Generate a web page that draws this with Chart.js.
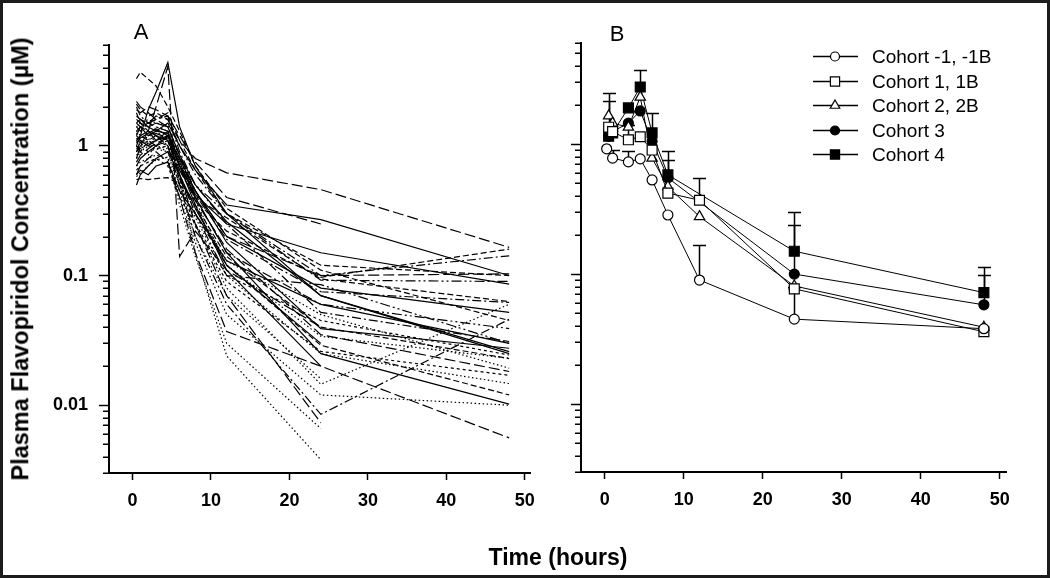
<!DOCTYPE html>
<html>
<head>
<meta charset="utf-8">
<script src="https://cdn.jsdelivr.net/npm/chart.js@4.4.1/dist/chart.umd.min.js"></script>
<style>
html,body{margin:0;padding:0;background:#fff;}
#wrap{position:relative;width:1050px;height:578px;overflow:hidden;background:#fff;}
#frame{position:absolute;left:0;top:0;width:1050px;height:578px;box-sizing:border-box;border:3px solid #1c1c1c;pointer-events:none;}
canvas{position:absolute;top:0;}
#cA{left:0;}
#cB{left:545px;}
.lbl{position:absolute;font-family:"Liberation Sans",Arial,sans-serif;color:#000;white-space:nowrap;line-height:1;}
#ytitle{font-weight:bold;font-size:23.5px;left:21px;top:259px;transform:translate(-50%,-50%) rotate(-90deg);}
#xtitle{font-weight:bold;font-size:23px;left:558px;top:557px;transform:translate(-50%,-50%);}
#lA{font-size:22px;left:141px;top:32px;transform:translate(-50%,-50%);}
#lB{font-size:22px;left:617px;top:34px;transform:translate(-50%,-50%);}
</style>
</head>
<body>
<div id="wrap">
  <canvas id="cA" width="545" height="578"></canvas>
  <canvas id="cB" width="505" height="578"></canvas>
  <div class="lbl" id="ytitle">Plasma Flavopiridol Concentration (µM)</div>
  <div class="lbl" id="xtitle">Time (hours)</div>
  <div class="lbl" id="lA">A</div>
  <div class="lbl" id="lB">B</div>
  <div id="frame"></div>
</div>
<script>
// ---------- DATA ----------
const xTicks = [0, 10, 20, 30, 40, 50];
const yMajorTicks = [0.01, 0.1, 1];
const yMajorLabels = ['0.01', '0.1', '1'];

// Panel A: individual patients, sampled at these times (h)
const timesA = [0.5, 1, 2, 3, 4.5, 6, 8, 12, 24, 48];
const pt01 = [3.3, 3.7, null, 2.9, 2.0, 1.3, 0.7, 0.33, 0.11, 0.045];
const pt02 = [null, 1.2, 1.9, 2.6, 4.4, 1.4, 0.7, 0.3, 0.07, 0.025];
const pt03 = [0.8, 1.0, 1.3, 2.0, 4.1, 0.14, 0.22, 0.11, 0.04, null];
const pt04 = [1.2, 1.4, 1.5, 1.6, 1.8, 1.1, 0.8, 0.62, 0.46, 0.165];
const pt05 = [0.55, 0.56, 0.55, 0.56, 0.57, 0.5, 0.38, 0.22, 0.097, 0.16];
const pt06 = [1.0, 0.9, 1.1, 1.0, 1.2, 0.8, 0.5, 0.3, 0.092, 0.09];
const pt07 = [1.5, 1.6, 1.4, 1.3, 1.5, 1.0, 0.65, 0.35, 0.27, 0.1];
const pt08 = [2.2, 2.0, 1.8, 1.6, 1.4, 0.85, 0.45, 0.2, 0.1, 0.103];
const pt09 = [0.7, 0.8, 0.9, 1.0, 1.2, 0.7, 0.42, 0.25, 0.15, 0.086];
const pt10 = [1.1, 1.0, 1.2, 1.3, 1.1, 0.6, 0.15, 0.024, 0.0038, null];
const pt11 = [0.9, 1.1, 1.0, 1.2, 1.0, 0.5, 0.2, 0.06, 0.0085, 0.046];
const pt12 = [1.3, 1.2, 1.1, 1.4, 1.3, 0.55, 0.25, 0.08, 0.0145, 0.06];
const pt13 = [0.6, 0.7, 0.8, 0.9, 0.75, 0.4, 0.15, 0.037, 0.02, 0.0056];
const pt14 = [1.0, 1.2, 1.3, 1.1, 1.3, 0.75, 0.4, 0.15, 0.025, 0.0102];
const pt15 = [1.8, 1.5, 1.3, 1.2, 1.0, 0.6, 0.3, 0.12, 0.029, 0.012];
const pt16 = [0.8, 0.9, 0.85, 1.0, 0.9, 0.45, 0.2, 0.07, 0.016, null];
const pt17 = [1.4, 1.3, 1.5, 1.6, 1.7, 0.9, 0.5, 0.25, 0.052, 0.031];
const pt18 = [1.2, 1.1, 1.0, 1.1, 1.2, 0.8, 0.45, 0.18, 0.039, 0.0275];
const pt19 = [0.9, 1.0, 1.1, 1.0, 1.1, 0.65, 0.4, 0.15, 0.06, 0.039];
const pt20 = [0.65, 0.7, 0.75, 0.8, 0.7, 0.4, 0.25, 0.1, 0.045, 0.0244];
const pt21 = [1.6, 1.5, 1.4, 1.5, 1.4, 0.85, 0.5, 0.26, 0.07, 0.0259];
const pt22 = [1.0, 0.95, 1.05, 1.1, 1.0, 0.55, 0.35, 0.14, 0.04, 0.0229];
const pt23 = [1.25, 1.1, 1.0, 1.0, 0.95, 0.55, 0.33, 0.13, 0.05, 0.0193];
const pt24 = [0.75, 0.85, 0.95, 1.05, 1.15, 0.7, 0.38, 0.16, 0.035, 0.0182];
const pt25 = [1.3, 1.4, 1.2, 1.3, 1.25, 0.7, 0.45, 0.2, 0.08, 0.052];
const pt26 = [2.0, 1.7, 1.5, 1.4, 1.3, 0.8, 0.42, 0.19, 0.075, 0.062];
const pt27 = [0.85, 0.9, 1.0, 0.95, 0.9, 0.5, 0.28, 0.1, 0.025, 0.0147];
const pt28 = [1.1, 1.2, 1.1, 1.2, 1.1, 0.65, 0.4, null, 0.094, 0.063];
const pt29 = [0.5, 0.6, 0.7, 0.8, 0.9, 0.6, 0.33, 0.12, 0.03, null];
const pt30 = [0.7, 0.75, 0.8, 0.85, 0.8, 0.35, 0.14, 0.03, 0.0066, null];
const pt31 = [1.5, 1.4, 1.3, 1.2, 1.1, 0.6, 0.25, 0.07, 0.0073, null];
const pt32 = [1.7, 1.6, 1.5, 1.7, 1.6, 1.0, 0.6, 0.3, 0.1, 0.142];
const pt33 = [1.05, 1.15, 1.25, 1.35, 1.2, 0.7, 0.35, 0.11, 0.02, null];
const pt34 = [0.95, 1.0, 0.9, 0.95, 1.0, 0.5, 0.24, 0.09, 0.026, 0.017];
const pt35 = [1.4, 1.5, 1.6, 1.5, 1.45, 0.8, 0.38, 0.12, 0.034, 0.023];
const pt36 = [0.6, 0.65, 0.6, 0.7, 0.75, 0.45, 0.3, 0.13, 0.06, 0.03];
const pt37 = [2.1, 1.9, 1.7, 1.8, 1.6, 1.1, 0.65, 0.3, 0.12, 0.1];
const pt38 = [1.15, 1.05, 1.2, 1.25, 1.15, 0.6, 0.3, 0.1, 0.085, 0.03];
const pt39 = [0.58, 0.62, 0.7, 0.78, 0.82, 0.4, 0.18, 0.05, 0.012, 0.01];
const pt40 = [1.9, 1.8, 2.0, 1.9, 1.7, 1.2, 0.75, 0.4, 0.25, null];
const patientsA = [pt01,pt02,pt03,pt04,pt05,pt06,pt07,pt08,pt09,pt10,pt11,pt12,pt13,pt14,pt15,pt16,pt17,pt18,pt19,pt20,
                   pt21,pt22,pt23,pt24,pt25,pt26,pt27,pt28,pt29,pt30,pt31,pt32,pt33,pt34,pt35,pt36,pt37,pt38,pt39,pt40];

// Panel B: cohort means and upper error bars
const cohortLabels = ['Cohort -1, -1B', 'Cohort 1, 1B', 'Cohort 2, 2B', 'Cohort 3', 'Cohort 4'];
const timesM1 = [0.25, 1, 3, 4.5, 6, 8, 12, 24, 48];
const meanM1  = [0.92, 0.78, 0.73, 0.77, 0.53, 0.285, 0.090, 0.045, 0.038];
const errM1   = [null, 0.9, 0.88, null, null, null, 0.168, 0.08, null];
const timesC1 = [0.5, 1, 3, 4.5, 6, 8, 12, 24, 48];
const meanC1  = [1.35, 1.25, 1.08, 1.14, 0.9, 0.42, 0.37, 0.077, 0.036];
const errC1   = [null, null, 1.4, null, null, 0.76, 0.55, null, null];
const timesC2 = [0.5, 1, 3, 4.5, 6, 8, 12, 24, 48];
const meanC2  = [1.65, 1.45, 1.35, 2.3, 0.78, 0.47, 0.277, 0.081, 0.039];
const errC2   = [2.47, null, null, null, null, null, null, null, null];
const timesC3 = [0.5, 1, 3, 4.5, 6, 8, 24, 48];
const meanC3  = [1.15, 1.25, 1.45, 1.8, 1.05, 0.55, 0.10, 0.058];
const errC3   = [2.13, null, null, null, null, null, 0.24, 0.098];
const timesC4 = [0.5, 1, 3, 4.5, 6, 8, 24, 48];
const meanC4  = [1.15, 1.22, 1.9, 2.75, 1.22, 0.58, 0.15, 0.072];
const errC4   = [null, null, null, 3.73, 1.73, 0.88, 0.30, 0.113];

// ---------- STYLES ----------
const dashStyles = {
  solid: [], dash: [6, 3], longdash: [11, 4], dot: [1.5, 2.5],
  dashdot: [9, 3, 2, 3], dashdotdot: [10, 3, 2, 3, 2, 3], shortdash: [3, 3]
};
const patientDash = ['dash','solid','longdash','longdash','dash','dashdotdot','solid','longdash','solid','dot',
  'dashdot','dot','longdash','solid','dash','dot','dashdot','solid','dashdotdot','shortdash',
  'solid','dash','dot','longdash','solid','dashdot','dot','dash','solid','dot',
  'longdash','dashdot','solid','shortdash','dot','solid','dash','dashdotdot','dot','longdash'];

const FONT = '"Liberation Sans", Arial, sans-serif';
const Y_MIN = 0.003, Y_MAX = 6;

function toPoints(times, vals) {
  const pts = [];
  times.forEach((t, i) => { if (vals[i] !== null && vals[i] !== undefined) pts.push({x: t, y: vals[i]}); });
  return pts;
}

const minorTicks = [];
for (let e = -3; e <= 0; e++) {
  for (let m = 2; m <= 9; m++) {
    const v = m * Math.pow(10, e);
    if (v >= Y_MIN * 0.999 && v <= Y_MAX * 1.001) minorTicks.push(v);
  }
}

const minorTickPlugin = {
  id: 'minorTicks',
  afterDraw(chart) {
    const ys = chart.scales.y, ctx = chart.ctx;
    ctx.save();
    ctx.strokeStyle = '#000';
    ctx.lineWidth = 1.5;
    ctx.setLineDash([]);
    ctx.beginPath();
    minorTicks.forEach(v => {
      const py = Math.round(ys.getPixelForValue(v)) + 0.25;
      ctx.moveTo(ys.right - 6, py);
      ctx.lineTo(ys.right, py);
    });
    ctx.stroke();
    ctx.restore();
  }
};

function makeOptions(xMax, yWidth, pad, showYLabels) {
  return {
    responsive: false,
    animation: false,
    devicePixelRatio: 1,
    events: [],
    layout: { padding: pad },
    plugins: { legend: { display: false }, tooltip: { enabled: false } },
    scales: {
      x: {
        type: 'linear', min: -3, max: xMax,
        afterBuildTicks: s => { s.ticks = xTicks.map(v => ({value: v})); },
        afterFit: s => { s.height = 45; },
        grid: { display: true, drawOnChartArea: false, drawTicks: true, tickLength: 7, tickWidth: 1.5, tickColor: '#000' },
        border: { display: true, color: '#000', width: 2 },
        ticks: { autoSkip: false, maxRotation: 0, padding: 10, color: '#000',
                 font: { family: FONT, size: 18, weight: 'bold' },
                 callback: v => String(v) }
      },
      y: {
        type: 'logarithmic', min: Y_MIN, max: Y_MAX,
        afterBuildTicks: s => { s.ticks = yMajorTicks.map(v => ({value: v})); },
        afterFit: s => { s.width = yWidth; },
        grid: { display: true, drawOnChartArea: false, drawTicks: true, tickLength: 10, tickWidth: 1.5, tickColor: '#000' },
        border: { display: true, color: '#000', width: 2 },
        ticks: { autoSkip: false, padding: 11, color: '#000',
                 font: { family: FONT, size: 18, weight: 'bold' },
                 callback: (v) => {
                   if (!showYLabels) return '';
                   const i = yMajorTicks.findIndex(t => Math.abs(t - v) / t < 1e-6);
                   return i >= 0 ? yMajorLabels[i] : '';
                 } }
      }
    }
  };
}

// ---------- PANEL A ----------
const dsA = patientsA.map((vals, i) => ({
  data: toPoints(timesA, vals),
  borderColor: '#000',
  borderWidth: 1.2,
  borderDash: dashStyles[patientDash[i]],
  pointRadius: 0,
  fill: false,
  tension: 0,
  spanGaps: true
}));

new Chart(document.getElementById('cA'), {
  type: 'line',
  data: { datasets: dsA },
  options: makeOptions(50.7, 109, { left: 0, right: 12, top: 45, bottom: 60 }, true),
  plugins: [minorTickPlugin]
});

// ---------- PANEL B ----------
const cohortStyle = [
  { pointStyle: 'circle',   radius: 5, fill: '#fff' },
  { pointStyle: 'rect',     radius: 7, fill: '#fff' },
  { pointStyle: 'triangle', radius: 6, fill: '#fff' },
  { pointStyle: 'circle',   radius: 5, fill: '#000' },
  { pointStyle: 'rect',     radius: 7, fill: '#000' }
];
const cohortTimes = [timesM1, timesC1, timesC2, timesC3, timesC4];
const cohortMeans = [meanM1, meanC1, meanC2, meanC3, meanC4];
const cohortErrs  = [errM1, errC1, errC2, errC3, errC4];

const dsB = cohortMeans.map((vals, i) => ({
  label: cohortLabels[i],
  data: toPoints(cohortTimes[i], vals),
  errUpper: cohortErrs[i],
  borderColor: '#000',
  borderWidth: 1,
  pointStyle: cohortStyle[i].pointStyle,
  pointRadius: cohortStyle[i].radius,
  pointBackgroundColor: cohortStyle[i].fill,
  pointBorderColor: '#000',
  pointBorderWidth: 1.2,
  fill: false,
  tension: 0
}));

const errorBarPlugin = {
  id: 'errorBars',
  beforeDatasetsDraw(chart) {
    const ctx = chart.ctx, ys = chart.scales.y;
    ctx.save();
    ctx.strokeStyle = '#000';
    ctx.lineWidth = 1.5;
    chart.data.datasets.forEach((ds, di) => {
      const meta = chart.getDatasetMeta(di);
      const errs = ds.errUpper;
      let k = 0;
      const vals = cohortMeans[di];
      vals.forEach((v, i) => {
        if (v === null) return;
        const el = meta.data[k++];
        const e = errs[i];
        if (e === null || e === undefined || !el) return;
        const x = Math.round(el.x) + 0.5;
        const y0 = el.y, y1 = Math.round(ys.getPixelForValue(e)) + 0.5;
        ctx.beginPath();
        ctx.moveTo(x, y0); ctx.lineTo(x, y1);
        ctx.moveTo(x - 6.5, y1); ctx.lineTo(x + 6.5, y1);
        ctx.stroke();
      });
    });
    ctx.restore();
  }
};

const legendPlugin = {
  id: 'cohortLegend',
  afterDraw(chart) {
    const ctx = chart.ctx;
    const x0 = 268, x1 = 313, xm = 290, xt = 327;
    const rows = [56, 81, 105, 130, 154];
    ctx.save();
    chart.data.datasets.forEach((ds, i) => {
      const y = rows[i] + 0.5;
      ctx.strokeStyle = '#000';
      ctx.lineWidth = 1.5;
      ctx.setLineDash([]);
      ctx.beginPath(); ctx.moveTo(x0, y); ctx.lineTo(x1, y); ctx.stroke();
      ctx.fillStyle = ds.pointBackgroundColor;
      ctx.lineWidth = 1.2;
      const r = ds.pointStyle === 'circle' ? 4.5 : (ds.pointStyle === 'rect' ? 6.5 : 5.5);
      Chart.helpers.drawPoint(ctx, { pointStyle: ds.pointStyle, radius: r, rotation: 0, borderWidth: 1.2 }, xm, y);
      ctx.fillStyle = '#000';
      ctx.font = '19px ' + FONT;
      ctx.textBaseline = 'middle';
      ctx.textAlign = 'left';
      ctx.fillText(ds.label, xt, y + 1);
    });
    ctx.restore();
  }
};

new Chart(document.getElementById('cB'), {
  type: 'line',
  data: { datasets: dsB },
  options: makeOptions(50.8, 36, { left: 0, right: 44, top: 43, bottom: 61 }, false),
  plugins: [minorTickPlugin, errorBarPlugin, legendPlugin]
});
</script>
</body>
</html>
